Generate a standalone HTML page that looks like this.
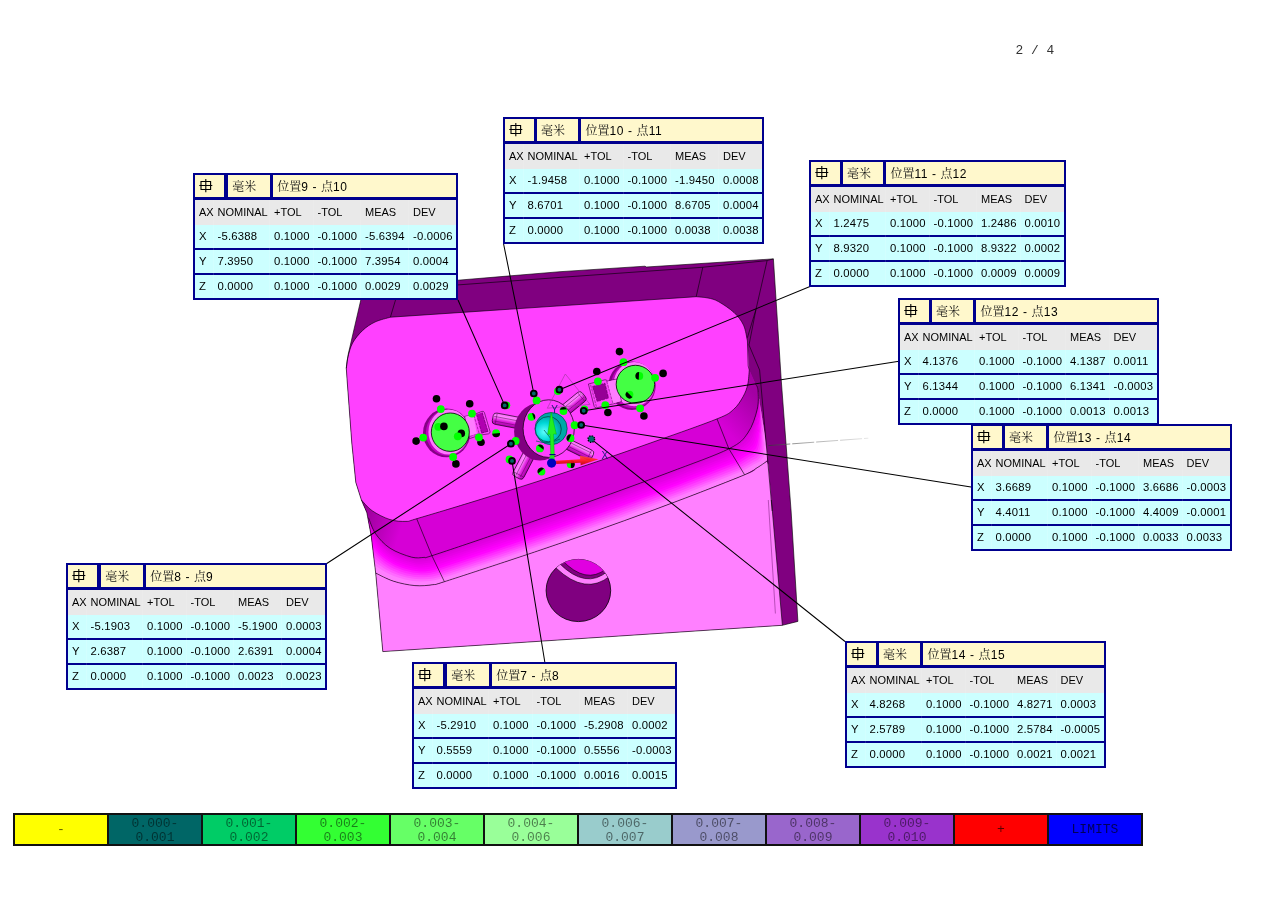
<!DOCTYPE html>
<html lang="zh"><head><meta charset="utf-8"><title>Report 2 / 4</title>
<style>
html,body{margin:0;padding:0;background:#fff}
body{width:1269px;height:897px;position:relative;overflow:hidden;font-family:"Liberation Sans","Noto Sans CJK SC",sans-serif}
#pg{position:absolute;left:1015.6px;top:42.6px;font:12.9px/15px "Liberation Mono",monospace;color:#333;white-space:pre}
#mdl{position:absolute;left:0;top:0}
.tb{position:absolute;height:127px;background:#00008e;box-sizing:border-box}
.tb .c{position:absolute;top:2px;height:22px;background:#fff8cc;line-height:24px;font-size:12px;white-space:nowrap;overflow:hidden}
.tb .c1{left:2px;width:29px}
.tb .c1 svg{position:absolute;left:4px;top:4px}
.tb .c2{}
.tb .c2 span{margin-left:4.4px}
.tb .c3{padding-left:4.4px;box-sizing:border-box}
.cj{font-family:"Liberation Serif","Noto Serif CJK SC",serif;font-size:12px;color:#151515;font-weight:400}
.la{font-family:"Liberation Sans",sans-serif;font-size:12px;color:#000;letter-spacing:.6px}
.tb .r{position:absolute;left:2px;right:2px}
.tb .h{background:#e9e9e9}
.tb .d{background:#ccffff;height:23px}
.tb .t{position:absolute;font-weight:normal;font-size:11.3px;line-height:22px;height:23px;color:#000;white-space:nowrap;letter-spacing:.2px}
.tb .th{letter-spacing:0;font-size:11px;line-height:24px}
.tb .vs{position:absolute;top:27px;height:98px;width:1px;background:rgba(255,255,255,.12)}
#lg{position:absolute;left:13.2px;top:813.4px;width:1129.5px;height:32.4px;background:#111}
#lg .k{position:absolute;top:1.2px;width:92.5px;height:29.9px;margin-left:1.5px;font:13px/14.2px "Liberation Mono",monospace;color:rgba(0,0,0,.5);text-align:center;padding-top:2px;box-sizing:border-box}
#lg .k1{line-height:30px;padding-top:0;color:rgba(0,0,0,.65)}
</style></head><body>
<div id="pg">2 / 4</div>
<svg id="mdl" width="1269" height="897" viewBox="0 0 1269 897">
<defs>
<linearGradient id="gf" gradientUnits="userSpaceOnUse" x1="500" y1="531.2" x2="509.7" y2="558.4">
<stop offset="0" stop-color="#dd00dd"/><stop offset=".35" stop-color="#ff00ff"/><stop offset=".6" stop-color="#ff22ff"/><stop offset="1" stop-color="#ff80ff"/></linearGradient>
<radialGradient id="gcy" cx=".35" cy=".6" r=".7"><stop offset="0" stop-color="#60ffff"/><stop offset=".5" stop-color="#00d8d8"/><stop offset="1" stop-color="#009898"/></radialGradient>
<linearGradient id="gpinL" x1="0" y1="1" x2="0" y2="0"><stop offset="0" stop-color="#ff60ff"/><stop offset=".3" stop-color="#ff90ff"/><stop offset=".6" stop-color="#e020e0"/><stop offset="1" stop-color="#a800a8"/></linearGradient>
<linearGradient id="gpinUR" x1="0" y1="0" x2="0" y2="1"><stop offset="0" stop-color="#ff60ff"/><stop offset=".3" stop-color="#ff90ff"/><stop offset=".6" stop-color="#e020e0"/><stop offset="1" stop-color="#a800a8"/></linearGradient>
<linearGradient id="gpinLR" x1="0" y1="0" x2="0" y2="1"><stop offset="0" stop-color="#ff60ff"/><stop offset=".3" stop-color="#ff90ff"/><stop offset=".6" stop-color="#e020e0"/><stop offset="1" stop-color="#a800a8"/></linearGradient>
<linearGradient id="gpinLL" x1="0" y1="0" x2="0" y2="1"><stop offset="0" stop-color="#a800a8"/><stop offset=".4" stop-color="#e020e0"/><stop offset=".7" stop-color="#ff90ff"/><stop offset="1" stop-color="#ff60ff"/></linearGradient>
<linearGradient id="gwl" gradientUnits="userSpaceOnUse" x1="358" y1="505" x2="404" y2="520"><stop offset="0" stop-color="#700070" stop-opacity=".7"/><stop offset="1" stop-color="#700070" stop-opacity="0"/></linearGradient>
<linearGradient id="gwr" gradientUnits="userSpaceOnUse" x1="726" y1="430" x2="760" y2="400"><stop offset="0" stop-color="#700070" stop-opacity="0"/><stop offset="1" stop-color="#700070" stop-opacity=".5"/></linearGradient>
<linearGradient id="gdl" gradientUnits="userSpaceOnUse" x1="768" y1="0" x2="868" y2="0"><stop offset="0" stop-color="#333"/><stop offset=".4" stop-color="#888"/><stop offset="1" stop-color="#ddd"/></linearGradient>
<linearGradient id="gred" x1="0" y1="0" x2="0" y2="1"><stop offset="0" stop-color="#ff5040"/><stop offset=".5" stop-color="#ff1a1a"/><stop offset="1" stop-color="#b80000"/></linearGradient>
</defs>
<path d="M364 286.5 L458 280.2 L560 271.7 L645 266.2 L646.5 267 L773.4 258.9 L781.3 381 L791.1 511 L797.9 621.4 L782.4 625.3 L382.8 651.6 L375.7 573.1 L371.2 535.7 L366.8 512.5 L361.4 500 L355.8 482.4 L351.8 443 L347.1 380 L346.3 368.3 L348.2 354.4 L360.8 300Z" fill="#800080"/>
<clipPath id="sc"><path d="M364 286.5 L458 280.2 L560 271.7 L645 266.2 L646.5 267 L773.4 258.9 L781.3 381 L791.1 511 L797.9 621.4 L782.4 625.3 L382.8 651.6 L375.7 573.1 L371.2 535.7 L366.8 512.5 L361.4 500 L355.8 482.4 L351.8 443 L347.1 380 L346.3 368.3 L348.2 354.4 L360.8 300Z"/></clipPath>
<g clip-path="url(#sc)">
<path d="M362.5 513.8 L368.5 517.8 L370.2 522.3 L372 526.8 L374 531.2 L376.7 535.2 L379.7 539 L383 542.5 L386.6 545.7 L390.5 548.5 L394.7 550.8 L399.1 552.8 L403.6 554.6 L408.2 556.2 L412.8 557.4 L417.6 557.9 L422.4 557.5 L427.2 556.9 L431.9 555.7 L491.4 535.7 L551 515.2 L610.5 494 L670.1 472 L728.9 448.8 L733 445.8 L737.1 442.8 L741.1 439.7 L744.9 436.3 L748.2 432.5 L750.7 428.1 L752.8 423.5 L754.6 418.7 L756 413.9 L757.3 408.9 L758.1 403.9 L758.3 398.9 L758.2 393.8 L757.8 388.7 L755.6 384.2 L755.7 384.4 L757.8 389.2 L758.3 394.4 L758.6 399.7 L758.5 405 L757.9 410.2 L756.9 415.3 L755.7 420.4 L754.3 425.4 L752.5 430.2 L750.3 434.9 L747.4 439.1 L743.6 442.6 L739.3 445.7 L735 448.7 L730.7 451.8 L671.7 475 L612.1 497.1 L552.5 518.3 L492.9 538.7 L433.3 558.7 L428.7 559.9 L424 560.6 L419.3 561 L414.6 560.6 L410 559.5 L405.5 558.2 L401 556.6 L396.6 554.8 L392.4 552.6 L388.5 550.1 L384.8 547.1 L381.4 543.9 L378.3 540.4 L375.5 536.6 L373.3 532.5 L371.3 528.3 L369.3 524.1 L363.3 520.1Z" fill="#d900d9"/>
<path d="M363 517.8 L369 521.8 L370.9 526.1 L372.8 530.4 L375 534.6 L377.7 538.4 L380.8 542 L384.1 545.4 L387.8 548.4 L391.7 551.1 L395.9 553.3 L400.3 555.2 L404.8 556.8 L409.3 558.3 L413.9 559.4 L418.7 559.8 L423.4 559.4 L428.2 558.8 L432.8 557.6 L492.3 537.6 L552 517.1 L611.5 495.9 L671.1 473.9 L730 450.7 L734.3 447.6 L738.5 444.7 L742.7 441.5 L746.5 438.1 L749.5 434 L751.9 429.4 L753.7 424.7 L755.3 419.7 L756.6 414.8 L757.7 409.7 L758.3 404.6 L758.5 399.4 L758.3 394.2 L757.8 389 L755.7 384.3 L755.8 384.5 L757.8 389.5 L758.4 394.8 L758.7 400.2 L758.7 405.6 L758.3 410.9 L757.4 416.2 L756.4 421.4 L755.2 426.5 L753.6 431.6 L751.7 436.4 L749 440.8 L745.1 444.5 L740.7 447.5 L736.3 450.6 L731.8 453.6 L672.7 476.9 L613.1 499 L553.5 520.2 L493.8 540.6 L434.2 560.5 L429.7 561.7 L425 562.5 L420.3 562.9 L415.7 562.6 L411.1 561.6 L406.6 560.4 L402.2 558.9 L397.8 557.2 L393.6 555.2 L389.6 552.8 L385.9 550 L382.5 546.9 L379.3 543.6 L376.4 540 L374.1 536.1 L371.9 532.1 L369.8 528.1 L363.8 524.1Z" fill="#e000e0"/>
<path d="M363.5 521.7 L369.5 525.7 L371.5 529.8 L373.6 534 L375.9 538 L378.7 541.7 L381.8 545.1 L385.2 548.3 L388.9 551.1 L392.9 553.7 L397.1 555.7 L401.5 557.5 L405.9 559 L410.4 560.4 L415 561.4 L419.7 561.8 L424.4 561.3 L429.1 560.6 L433.7 559.4 L493.3 539.5 L552.9 519 L612.5 497.8 L672.1 475.8 L731.1 452.5 L735.5 449.5 L739.9 446.5 L744.2 443.4 L748.1 439.8 L750.9 435.5 L753 430.8 L754.6 425.8 L756 420.8 L757.1 415.6 L758 410.5 L758.6 405.2 L758.6 399.9 L758.3 394.6 L757.8 389.3 L755.7 384.5 L755.8 384.7 L757.8 389.8 L758.4 395.2 L758.8 400.7 L758.9 406.2 L758.6 411.7 L758 417.1 L757.1 422.4 L756.1 427.7 L754.8 432.9 L753.1 437.9 L750.6 442.5 L746.7 446.3 L742.1 449.3 L737.5 452.4 L732.9 455.5 L673.7 478.8 L614 500.9 L554.4 522.1 L494.7 542.5 L435.1 562.4 L430.6 563.6 L426 564.4 L421.4 564.8 L416.7 564.6 L412.2 563.7 L407.7 562.6 L403.3 561.3 L399 559.7 L394.8 557.8 L390.8 555.5 L387.1 552.9 L383.6 550 L380.3 546.8 L377.4 543.4 L374.9 539.7 L372.6 535.9 L370.4 532 L364.4 528Z" fill="#e600e6"/>
<path d="M364 525.6 L370 529.6 L372.2 533.6 L374.4 537.5 L376.8 541.3 L379.7 544.9 L382.9 548.1 L386.4 551.1 L390.1 553.9 L394.1 556.2 L398.3 558.2 L402.6 559.9 L407.1 561.3 L411.5 562.5 L416.1 563.4 L420.8 563.7 L425.4 563.2 L430 562.5 L434.6 561.3 L494.2 541.4 L553.9 520.9 L613.5 499.7 L673.1 477.7 L732.3 454.4 L736.8 451.3 L741.3 448.3 L745.7 445.2 L749.7 441.5 L752.3 437 L754.1 432.1 L755.6 427 L756.7 421.8 L757.6 416.5 L758.4 411.2 L758.8 405.9 L758.8 400.4 L758.4 395 L757.8 389.6 L755.8 384.6 L755.9 384.8 L757.8 390 L758.5 395.6 L759 401.3 L759.2 406.9 L759 412.5 L758.5 418 L757.8 423.5 L757 428.9 L755.9 434.2 L754.4 439.4 L752.2 444.2 L748.2 448.1 L743.5 451.1 L738.8 454.2 L734.1 457.3 L674.7 480.7 L615 502.8 L555.4 524 L495.7 544.4 L436 564.2 L431.6 565.5 L427 566.2 L422.4 566.8 L417.8 566.6 L413.3 565.8 L408.9 564.8 L404.5 563.6 L400.2 562.1 L396 560.3 L392 558.2 L388.2 555.7 L384.7 553 L381.3 550 L378.3 546.8 L375.7 543.3 L373.2 539.6 L370.9 536 L364.9 532Z" fill="#ed00ed"/>
<path d="M364.6 529.6 L370.6 533.6 L372.9 537.4 L375.2 541.1 L377.7 544.7 L380.7 548.1 L384 551.2 L387.5 554 L391.3 556.6 L395.3 558.8 L399.5 560.7 L403.8 562.2 L408.2 563.5 L412.7 564.6 L417.2 565.4 L421.8 565.6 L426.4 565.1 L431 564.3 L435.5 563.1 L495.1 543.2 L554.8 522.8 L614.4 501.6 L674.1 479.6 L733.4 456.2 L738 453.1 L742.7 450.1 L747.3 447 L751.2 443.2 L753.6 438.5 L755.2 433.4 L756.5 428.2 L757.4 422.8 L758.2 417.4 L758.8 412 L759 406.5 L758.9 400.9 L758.5 395.4 L757.8 389.9 L755.9 384.7 L756 384.9 L757.8 390.3 L758.6 396 L759.1 401.8 L759.4 407.5 L759.4 413.2 L759 418.9 L758.6 424.5 L757.9 430.1 L757 435.5 L755.8 440.9 L753.8 445.9 L749.7 449.9 L744.9 453 L740 456.1 L735.2 459.2 L675.7 482.6 L616 504.7 L556.3 525.9 L496.6 546.3 L436.9 566.1 L432.5 567.3 L428 568.1 L423.5 568.7 L418.9 568.6 L414.5 568 L410 567.1 L405.7 566 L401.3 564.6 L397.2 562.9 L393.1 560.9 L389.3 558.6 L385.7 556 L382.3 553.2 L379.2 550.2 L376.5 546.8 L373.9 543.4 L371.4 539.9 L365.4 535.9Z" fill="#f300f3"/>
<path d="M365.1 533.5 L371.1 537.5 L373.5 541.1 L376 544.7 L378.7 548.1 L381.7 551.3 L385.1 554.2 L388.7 556.9 L392.4 559.3 L396.4 561.4 L400.6 563.1 L405 564.6 L409.3 565.7 L413.8 566.7 L418.3 567.4 L422.8 567.5 L427.4 567 L431.9 566.2 L436.4 565 L496 545.1 L555.8 524.7 L615.4 503.5 L675.1 481.5 L734.5 458.1 L739.3 455 L744 451.9 L748.8 448.8 L752.8 444.9 L755 440 L756.3 434.7 L757.4 429.4 L758.1 423.9 L758.7 418.3 L759.1 412.8 L759.3 407.1 L759 401.5 L758.5 395.8 L757.8 390.1 L755.9 384.8 L756 385 L757.8 390.6 L758.6 396.4 L759.2 402.3 L759.6 408.2 L759.7 414 L759.6 419.8 L759.3 425.5 L758.8 431.2 L758.1 436.9 L757.2 442.4 L755.4 447.6 L751.3 451.7 L746.3 454.8 L741.3 457.9 L736.3 461.1 L676.7 484.5 L617 506.6 L557.3 527.8 L497.5 548.1 L437.8 568 L433.4 569.2 L429 570 L424.5 570.6 L420 570.6 L415.6 570.1 L411.2 569.3 L406.8 568.3 L402.5 567 L398.3 565.5 L394.3 563.6 L390.5 561.5 L386.8 559.1 L383.4 556.5 L380.2 553.6 L377.3 550.4 L374.6 547.1 L371.9 543.9 L365.9 539.9Z" fill="#fa00fa"/>
<path d="M365.6 537.5 L371.6 541.5 L374.2 544.9 L376.8 548.3 L379.6 551.5 L382.8 554.5 L386.2 557.3 L389.8 559.8 L393.6 562 L397.6 563.9 L401.8 565.6 L406.1 566.9 L410.5 568 L414.9 568.8 L419.4 569.4 L423.9 569.4 L428.4 568.9 L432.9 568.1 L437.3 566.8 L497 547 L556.7 526.6 L616.4 505.4 L676.1 483.4 L735.6 459.9 L740.5 456.8 L745.4 453.7 L750.4 450.6 L754.4 446.6 L756.4 441.5 L757.5 436.1 L758.3 430.5 L758.8 424.9 L759.2 419.2 L759.5 413.5 L759.5 407.8 L759.2 402 L758.6 396.2 L757.8 390.4 L756 385 L756.1 385.2 L757.9 390.9 L758.7 396.8 L759.4 402.8 L759.9 408.8 L760.1 414.8 L760.1 420.7 L760 426.6 L759.7 432.4 L759.3 438.2 L758.5 443.9 L757 449.3 L752.8 453.5 L747.7 456.6 L742.5 459.7 L737.4 462.9 L677.8 486.4 L618 508.5 L558.2 529.7 L498.5 550 L438.7 569.8 L434.4 571 L430 571.9 L425.5 572.5 L421.1 572.6 L416.7 572.2 L412.3 571.5 L408 570.6 L403.7 569.5 L399.5 568.1 L395.5 566.3 L391.6 564.3 L387.9 562.1 L384.4 559.7 L381.1 556.9 L378.1 554 L375.2 550.9 L372.4 547.8 L366.4 543.8Z" fill="#ff04ff"/>
<path d="M366.1 541.5 L372.1 545.5 L374.8 548.6 L377.6 551.8 L380.5 554.9 L383.8 557.7 L387.3 560.3 L390.9 562.6 L394.8 564.7 L398.8 566.5 L403 568 L407.3 569.2 L411.6 570.2 L416 570.9 L420.4 571.4 L424.9 571.4 L429.4 570.8 L433.8 569.9 L438.1 568.7 L497.9 548.9 L557.6 528.5 L617.4 507.4 L677.2 485.2 L736.8 461.8 L741.8 458.6 L746.8 455.5 L751.9 452.4 L756 448.3 L757.7 443 L758.6 437.4 L759.2 431.7 L759.6 425.9 L759.8 420.1 L759.9 414.3 L759.7 408.4 L759.3 402.5 L758.7 396.6 L757.8 390.7 L756 385.1 L756.2 385.3 L757.9 391.2 L758.8 397.2 L759.5 403.3 L760.1 409.4 L760.5 415.5 L760.6 421.6 L760.7 427.6 L760.6 433.6 L760.4 439.5 L759.9 445.4 L758.5 451 L754.4 455.3 L749 458.4 L743.8 461.6 L738.5 464.8 L678.8 488.3 L619 510.4 L559.2 531.6 L499.4 551.9 L439.6 571.7 L435.3 572.9 L431 573.8 L426.6 574.4 L422.2 574.5 L417.8 574.3 L413.5 573.8 L409.2 573 L404.9 571.9 L400.7 570.6 L396.7 569.1 L392.8 567.2 L389 565.2 L385.4 562.9 L382 560.3 L378.9 557.6 L375.9 554.7 L372.9 551.8 L366.9 547.8Z" fill="#ff18ff"/>
<path d="M366.6 545.4 L372.6 549.4 L375.5 552.4 L378.4 555.4 L381.5 558.3 L384.8 561 L388.4 563.3 L392.1 565.5 L396 567.4 L400 569.1 L404.2 570.5 L408.5 571.6 L412.8 572.4 L417.1 573 L421.5 573.4 L426 573.3 L430.4 572.7 L434.7 571.8 L439 570.6 L498.8 550.8 L558.6 530.5 L618.4 509.3 L678.2 487.1 L737.9 463.7 L743 460.5 L748.2 457.3 L753.4 454.2 L757.6 450 L759.1 444.5 L759.7 438.7 L760.1 432.9 L760.3 427 L760.3 421 L760.2 415.1 L760 409.1 L759.4 403 L758.7 397 L757.9 391 L756.1 385.2 L756.2 385.4 L757.9 391.4 L758.9 397.6 L759.7 403.9 L760.3 410.1 L760.8 416.3 L761.2 422.5 L761.4 428.6 L761.5 434.8 L761.5 440.9 L761.3 446.9 L760.1 452.7 L755.9 457.2 L750.4 460.2 L745.1 463.4 L739.7 466.6 L679.8 490.2 L620 512.3 L560.1 533.5 L500.3 553.8 L440.5 573.5 L436.3 574.8 L432 575.7 L427.6 576.3 L423.3 576.5 L418.9 576.4 L414.6 576 L410.3 575.3 L406.1 574.4 L401.9 573.2 L397.8 571.8 L393.9 570.1 L390.1 568.2 L386.4 566.1 L382.9 563.7 L379.7 561.1 L376.6 558.4 L373.4 555.7 L367.4 551.7Z" fill="#ff2dff"/>
<path d="M367.1 549.4 L373.1 553.4 L376.2 556.2 L379.2 559 L382.4 561.7 L385.8 564.2 L389.4 566.4 L393.2 568.4 L397.1 570.1 L401.2 571.7 L405.4 572.9 L409.6 573.9 L413.9 574.7 L418.3 575.1 L422.6 575.3 L427 575.2 L431.4 574.6 L435.7 573.6 L439.9 572.4 L499.8 552.7 L559.5 532.4 L619.4 511.2 L679.2 489 L739 465.5 L744.3 462.3 L749.6 459.1 L755 456.1 L759.2 451.7 L760.5 446 L760.8 440.1 L761 434.1 L761 428 L760.8 421.9 L760.6 415.8 L760.2 409.7 L759.6 403.6 L758.8 397.4 L757.9 391.3 L756.2 385.4 L756.3 385.6 L757.9 391.7 L758.9 398 L759.8 404.4 L760.6 410.7 L761.2 417.1 L761.7 423.4 L762.1 429.7 L762.5 435.9 L762.6 442.2 L762.6 448.4 L761.7 454.5 L757.4 459 L751.8 462 L746.3 465.3 L740.8 468.5 L680.8 492.1 L620.9 514.2 L561.1 535.4 L501.2 555.7 L441.4 575.4 L437.2 576.6 L433 577.6 L428.7 578.3 L424.3 578.5 L420 578.5 L415.8 578.2 L411.5 577.7 L407.3 576.8 L403.1 575.8 L399 574.5 L395 573 L391.2 571.3 L387.4 569.3 L383.9 567.1 L380.5 564.7 L377.2 562.2 L374 559.7 L368 555.7Z" fill="#ff41ff"/>
<path d="M367.6 553.3 L373.6 557.3 L376.8 559.9 L380 562.6 L383.3 565.1 L386.8 567.4 L390.5 569.4 L394.4 571.2 L398.3 572.9 L402.4 574.2 L406.5 575.4 L410.8 576.3 L415.1 576.9 L419.4 577.2 L423.7 577.3 L428 577.1 L432.4 576.5 L436.6 575.5 L440.8 574.3 L500.7 554.6 L560.5 534.3 L620.4 513.1 L680.2 490.9 L740.1 467.4 L745.6 464.2 L751 460.9 L756.5 457.9 L760.8 453.4 L761.8 447.5 L761.9 441.4 L761.9 435.2 L761.7 429 L761.4 422.8 L761 416.6 L760.4 410.3 L759.7 404.1 L758.9 397.8 L757.9 391.6 L756.2 385.5 L756.3 385.7 L757.9 392 L759 398.4 L759.9 404.9 L760.8 411.4 L761.6 417.8 L762.2 424.3 L762.8 430.7 L763.4 437.1 L763.7 443.5 L764 449.9 L763.3 456.2 L759 460.8 L753.2 463.8 L747.6 467.1 L741.9 470.3 L681.8 494 L621.9 516.1 L562 537.3 L502.2 557.6 L442.3 577.2 L438.1 578.5 L434 579.5 L429.7 580.2 L425.4 580.5 L421.2 580.6 L416.9 580.4 L412.7 580 L408.4 579.3 L404.3 578.4 L400.2 577.2 L396.2 575.8 L392.3 574.3 L388.5 572.5 L384.8 570.5 L381.3 568.3 L377.9 565.9 L374.5 563.6 L368.5 559.6Z" fill="#ff55ff"/>
<path d="M368.2 557.2 L374.2 561.2 L377.5 563.7 L380.8 566.1 L384.2 568.5 L387.8 570.6 L391.6 572.5 L395.5 574.1 L399.5 575.6 L403.6 576.8 L407.7 577.8 L412 578.6 L416.2 579.1 L420.5 579.3 L424.8 579.3 L429.1 579 L433.4 578.4 L437.6 577.4 L441.7 576.1 L501.6 556.4 L561.4 536.2 L621.3 515 L681.2 492.8 L741.2 469.2 L746.8 466 L752.4 462.7 L758.1 459.7 L762.3 455.1 L763.2 449 L763.1 442.7 L762.8 436.4 L762.4 430.1 L761.9 423.7 L761.3 417.4 L760.7 411 L759.9 404.6 L758.9 398.2 L757.9 391.8 L756.3 385.6 L756.4 385.8 L757.9 392.3 L759.1 398.8 L760.1 405.4 L761 412 L761.9 418.6 L762.8 425.2 L763.6 431.7 L764.3 438.3 L764.9 444.8 L765.4 451.4 L764.9 457.9 L760.5 462.6 L754.6 465.6 L748.8 468.9 L743 472.2 L682.8 495.9 L622.9 518 L563 539.2 L503.1 559.5 L443.1 579.1 L439.1 580.3 L434.9 581.4 L430.7 582.1 L426.5 582.5 L422.3 582.7 L418 582.7 L413.8 582.4 L409.6 581.8 L405.5 580.9 L401.4 579.9 L397.3 578.7 L393.3 577.4 L389.5 575.8 L385.7 573.9 L382.1 571.8 L378.5 569.7 L375 567.6 L369 563.6Z" fill="#ff6aff"/>
<path d="M368.7 561.2 L374.7 565.2 L378.1 567.4 L381.6 569.7 L385.2 571.9 L388.9 573.8 L392.7 575.5 L396.6 577 L400.7 578.3 L404.8 579.4 L408.9 580.3 L413.1 581 L417.4 581.3 L421.6 581.4 L425.9 581.3 L430.1 580.9 L434.3 580.3 L438.5 579.2 L442.6 578 L502.5 558.3 L562.4 538.1 L622.3 516.9 L682.2 494.7 L742.4 471.1 L748.1 467.8 L753.7 464.5 L759.6 461.5 L763.9 456.8 L764.6 450.5 L764.2 444 L763.7 437.6 L763.1 431.1 L762.4 424.6 L761.7 418.1 L760.9 411.6 L760 405.1 L759 398.6 L757.9 392.1 L756.4 385.7 L756.5 385.9 L757.9 392.6 L759.1 399.3 L760.2 405.9 L761.3 412.6 L762.3 419.3 L763.3 426 L764.3 432.7 L765.2 439.5 L766 446.2 L766.7 452.9 L766.5 459.6 L762.1 464.4 L756 467.4 L750.1 470.8 L744.2 474.1 L683.8 497.7 L623.9 519.9 L563.9 541.1 L504 561.3 L444 581 L440 582.2 L435.9 583.3 L431.8 584 L427.6 584.5 L423.4 584.8 L419.2 584.9 L415 584.7 L410.8 584.2 L406.7 583.5 L402.5 582.6 L398.5 581.6 L394.4 580.4 L390.5 579 L386.6 577.3 L382.9 575.4 L379.2 573.5 L375.5 571.5 L369.5 567.5Z" fill="#ff7eff"/>
<path d="M369.2 565.1 L375.2 569.1 L378.8 571.2 L382.4 573.3 L386.1 575.3 L389.9 577 L393.8 578.6 L397.8 579.9 L401.8 581 L405.9 582 L410.1 582.7 L414.3 583.3 L418.5 583.6 L422.7 583.5 L426.9 583.3 L431.2 582.9 L435.3 582.2 L439.4 581.1 L443.5 579.8 L503.5 560.2 L563.3 540 L623.3 518.8 L683.2 496.6 L743.5 472.9 L749.3 469.7 L755.1 466.3 L761.1 463.3 L765.5 458.6 L765.9 452 L765.3 445.4 L764.6 438.8 L763.8 432.1 L763 425.5 L762.1 418.9 L761.1 412.3 L760.1 405.6 L759.1 399 L757.9 392.4 L756.4 385.9 L756.5 386 L757.9 392.7 L759.1 399.4 L760.3 406.2 L761.4 412.9 L762.4 419.7 L763.5 426.4 L764.6 433.2 L765.5 439.9 L766.4 446.7 L767.3 453.5 L767.1 460.3 L762.7 465.1 L756.5 468.1 L750.6 471.5 L744.6 474.8 L684.2 498.5 L624.3 520.7 L564.3 541.9 L504.4 562.1 L444.4 581.7 L440.4 582.9 L436.3 584 L432.2 584.8 L428 585.3 L423.8 585.7 L419.6 585.8 L415.4 585.6 L411.3 585.2 L407.1 584.5 L403 583.7 L398.9 582.7 L394.9 581.6 L390.9 580.3 L387 578.6 L383.2 576.9 L379.5 575 L375.7 573.1 L369.7 569.1Z" fill="#ff80ff"/>
</g>
<path d="M375.7 573.1C378.7 574.5 387 579.1 393.5 581.2C400 583.3 408.3 585 414.9 585.6C421.4 586.2 427.9 585.4 432.8 584.7C437.7 584.1 432.5 585.5 444.4 581.7C456.3 577.9 484.4 568.7 504.4 562.1C524.4 555.5 544.3 548.8 564.3 541.9C584.3 535 604.3 527.9 624.3 520.7C644.3 513.5 664.2 506.1 684.2 498.5C704.2 490.9 732.4 479.9 744.6 474.8C756.8 469.7 753.5 469.9 757.2 467.7C760.9 465.5 765.1 462.4 766.7 461.4L768.3 464.6 L771.4 500 L782.4 625.3 L382.8 651.6Z" fill="#ff80ff"/>
<path d="M368.5 517.8C369.7 520.5 372.1 528.8 375.7 533.9C379.3 539 384.1 544.3 390 548.2C395.9 552.1 405.8 555.6 411.4 557.1C417 558.6 420.5 557.6 423.9 557.4C427.3 557.2 420.6 559.3 431.9 555.7C443.1 552.1 471.5 542.5 491.4 535.7C511.2 529 531.1 522.2 551 515.2C570.9 508.3 590.6 501.2 610.5 494C630.4 486.8 650.4 479.5 670.1 472C689.8 464.5 716 455.3 728.9 448.8C741.8 442.3 743.1 439.6 747.8 433C752.5 426.4 755.5 416.5 757.2 409.4C758.9 402.3 758.3 394.7 758 390.5C757.7 386.3 756 385.2 755.6 384.2L749.3 370L749.3 370C749 372.4 748.8 379.7 747.8 384.2C746.8 388.7 745.4 392.6 743 396.8C740.6 401 737.9 405.7 733.6 409.4C729.3 413.1 729.8 413.7 717 418.9C704.2 424.1 677 433.6 657 440.7C637 447.8 616.9 454.9 596.9 461.7C576.9 468.5 556.9 475.2 536.9 481.7C516.9 488.2 496.8 494.4 476.8 500.6C456.8 506.8 428.5 515.2 416.7 518.7C404.9 522.2 410.4 521.2 406 521.4C401.6 521.5 395.6 521.4 390 519.6C384.4 517.8 376.9 514 372.1 510.7C367.3 507.4 363.2 501.8 361.4 500L366.8 512.5Z" fill="#d600d6"/>
<path d="M368.5 517.8C369.7 520.5 372.1 528.8 375.7 533.9C379.3 539 384.1 544.3 390 548.2C395.9 552.1 405.8 555.6 411.4 557.1C417 558.6 420.5 557.6 423.9 557.4C427.3 557.2 420.6 559.3 431.9 555.7C443.1 552.1 471.5 542.5 491.4 535.7C511.2 529 531.1 522.2 551 515.2C570.9 508.3 590.6 501.2 610.5 494C630.4 486.8 650.4 479.5 670.1 472C689.8 464.5 716 455.3 728.9 448.8C741.8 442.3 743.1 439.6 747.8 433C752.5 426.4 755.5 416.5 757.2 409.4C758.9 402.3 758.3 394.7 758 390.5C757.7 386.3 756 385.2 755.6 384.2L749.3 370L749.3 370C749 372.4 748.8 379.7 747.8 384.2C746.8 388.7 745.4 392.6 743 396.8C740.6 401 737.9 405.7 733.6 409.4C729.3 413.1 729.8 413.7 717 418.9C704.2 424.1 677 433.6 657 440.7C637 447.8 616.9 454.9 596.9 461.7C576.9 468.5 556.9 475.2 536.9 481.7C516.9 488.2 496.8 494.4 476.8 500.6C456.8 506.8 428.5 515.2 416.7 518.7C404.9 522.2 410.4 521.2 406 521.4C401.6 521.5 395.6 521.4 390 519.6C384.4 517.8 376.9 514 372.1 510.7C367.3 507.4 363.2 501.8 361.4 500L366.8 512.5Z" fill="url(#gwl)"/>
<path d="M368.5 517.8C369.7 520.5 372.1 528.8 375.7 533.9C379.3 539 384.1 544.3 390 548.2C395.9 552.1 405.8 555.6 411.4 557.1C417 558.6 420.5 557.6 423.9 557.4C427.3 557.2 420.6 559.3 431.9 555.7C443.1 552.1 471.5 542.5 491.4 535.7C511.2 529 531.1 522.2 551 515.2C570.9 508.3 590.6 501.2 610.5 494C630.4 486.8 650.4 479.5 670.1 472C689.8 464.5 716 455.3 728.9 448.8C741.8 442.3 743.1 439.6 747.8 433C752.5 426.4 755.5 416.5 757.2 409.4C758.9 402.3 758.3 394.7 758 390.5C757.7 386.3 756 385.2 755.6 384.2L749.3 370L749.3 370C749 372.4 748.8 379.7 747.8 384.2C746.8 388.7 745.4 392.6 743 396.8C740.6 401 737.9 405.7 733.6 409.4C729.3 413.1 729.8 413.7 717 418.9C704.2 424.1 677 433.6 657 440.7C637 447.8 616.9 454.9 596.9 461.7C576.9 468.5 556.9 475.2 536.9 481.7C516.9 488.2 496.8 494.4 476.8 500.6C456.8 506.8 428.5 515.2 416.7 518.7C404.9 522.2 410.4 521.2 406 521.4C401.6 521.5 395.6 521.4 390 519.6C384.4 517.8 376.9 514 372.1 510.7C367.3 507.4 363.2 501.8 361.4 500L366.8 512.5Z" fill="url(#gwr)"/>
<path d="M346.3 368.3C346.5 366.6 346.6 362.4 347.6 358.2C348.7 354 350.1 347.6 352.6 343C355.1 338.4 359 333.9 362.7 330.4C366.4 326.9 370.4 324.2 375 322C379.6 319.8 387.8 318 390.4 317.2L696.2 296.7C698.2 296.9 704.3 297.2 708 298C711.7 298.8 714 299.1 718.3 301.5C722.6 303.9 729.8 308.6 734 312.5C738.2 316.4 741.3 320.4 743.5 325.1C745.7 329.8 746.8 338.3 747.4 340.9L749.3 370C749 372.4 748.8 379.7 747.8 384.2C746.8 388.7 745.4 392.6 743 396.8C740.6 401 737.9 405.7 733.6 409.4C729.3 413.1 729.8 413.7 717 418.9C704.2 424.1 677 433.6 657 440.7C637 447.8 616.9 454.9 596.9 461.7C576.9 468.5 556.9 475.2 536.9 481.7C516.9 488.2 496.8 494.4 476.8 500.6C456.8 506.8 428.5 515.2 416.7 518.7C404.9 522.2 410.4 521.2 406 521.4C401.6 521.5 395.6 521.4 390 519.6C384.4 517.8 376.9 514 372.1 510.7C367.3 507.4 363.2 501.8 361.4 500L355.8 482.4 L351.8 443 L347.1 380 L346.3 368.3Z" fill="#ff40ff"/>
<path d="M346.3 368.3C346.5 366.6 346.6 362.4 347.6 358.2C348.7 354 350.1 347.6 352.6 343C355.1 338.4 359 333.9 362.7 330.4C366.4 326.9 370.4 324.2 375 322C379.6 319.8 387.8 318 390.4 317.2L696.2 296.7C698.2 296.9 704.3 297.2 708 298C711.7 298.8 714 299.1 718.3 301.5C722.6 303.9 729.8 308.6 734 312.5C738.2 316.4 741.3 320.4 743.5 325.1C745.7 329.8 746.8 338.3 747.4 340.9 M747.4 340.9L748.2 366 L749.3 370L749.3 370C749 372.4 748.8 379.7 747.8 384.2C746.8 388.7 745.4 392.6 743 396.8C740.6 401 737.9 405.7 733.6 409.4C729.3 413.1 729.8 413.7 717 418.9C704.2 424.1 677 433.6 657 440.7C637 447.8 616.9 454.9 596.9 461.7C576.9 468.5 556.9 475.2 536.9 481.7C516.9 488.2 496.8 494.4 476.8 500.6C456.8 506.8 428.5 515.2 416.7 518.7C404.9 522.2 410.4 521.2 406 521.4C401.6 521.5 395.6 521.4 390 519.6C384.4 517.8 376.9 514 372.1 510.7C367.3 507.4 363.2 501.8 361.4 500 M368.5 517.8C369.7 520.5 372.1 528.8 375.7 533.9C379.3 539 384.1 544.3 390 548.2C395.9 552.1 405.8 555.6 411.4 557.1C417 558.6 420.5 557.6 423.9 557.4C427.3 557.2 420.6 559.3 431.9 555.7C443.1 552.1 471.5 542.5 491.4 535.7C511.2 529 531.1 522.2 551 515.2C570.9 508.3 590.6 501.2 610.5 494C630.4 486.8 650.4 479.5 670.1 472C689.8 464.5 716 455.3 728.9 448.8C741.8 442.3 743.1 439.6 747.8 433C752.5 426.4 755.5 416.5 757.2 409.4C758.9 402.3 758.3 394.7 758 390.5C757.7 386.3 756 385.2 755.6 384.2 M375.7 573.1C378.7 574.5 387 579.1 393.5 581.2C400 583.3 408.3 585 414.9 585.6C421.4 586.2 427.9 585.4 432.8 584.7C437.7 584.1 432.5 585.5 444.4 581.7C456.3 577.9 484.4 568.7 504.4 562.1C524.4 555.5 544.3 548.8 564.3 541.9C584.3 535 604.3 527.9 624.3 520.7C644.3 513.5 664.2 506.1 684.2 498.5C704.2 490.9 732.4 479.9 744.6 474.8C756.8 469.7 753.5 469.9 757.2 467.7C760.9 465.5 765.1 462.4 766.7 461.4 M416.7 518.7L431.9 555.7L444.4 581.7 M717 418.9L728.9 448.8L744.6 474.8 M395.5 300L390.4 317.2 M702.8 267.3L696.2 296.7 M364 291.2L458 284.9L560 277.4L702.2 267.3L767.1 260.6L756 309.3L747.4 337.7 M767.1 260.5L773.4 258.9 M756 309.3L749 345L759.6 370L772.2 511 M364 286.5 L458 280.2 L560 271.7 L645 266.2 L646.5 267 L773.4 258.9 L781.3 381 L791.1 511 L797.9 621.4 L782.4 625.3 L382.8 651.6 L375.7 573.1 L371.2 535.7 L366.8 512.5 L361.4 500 L355.8 482.4 L351.8 443 L347.1 380 L346.3 368.3 L348.2 354.4 L360.8 300Z M771.4 500L782.4 625.3" fill="none" stroke="#000" stroke-width=".62"/>
<path d="M768.3 500L775.4 613.5" fill="none" stroke="#8a2a8a" stroke-width=".6"/>
<g>
<clipPath id="hc"><ellipse cx="578.4" cy="590.5" rx="32.3" ry="31.1"/></clipPath>
<ellipse cx="578.4" cy="590.5" rx="32.3" ry="31.1" fill="#800080" stroke="#000" stroke-width=".8"/>
<g clip-path="url(#hc)">
<path d="M556 568Q585.7 596 610 576L610 550L556 550Z" fill="#ff80ff"/>
<path d="M559 563Q585.7 590 608 571L608 550L559 550Z" fill="#800080"/>
<path d="M562 560Q585.7 585 606 569L606 550L562 550Z" fill="#e000e0"/>
<path d="M556 568Q585.7 596 610 576M559 563Q585.7 590 608 571M562 560Q585.7 585 606 569" fill="none" stroke="#000" stroke-width=".6"/>
</g></g>
<g transform="translate(518 422.9) rotate(-169.2)"><path d="M0 -5.7H22.5Q25.7 -5.7 25.7 -2.5V2.5Q25.7 5.7 22.5 5.7H0Z" fill="url(#gpinL)" stroke="#000" stroke-width=".6"/><path d="M0 -2.6H23.7M0 2H24.7M22.2 -5.2V5.2" fill="none" stroke="#600060" stroke-width=".5"/></g>
<g transform="translate(563.5 411.5) rotate(-39.4)"><path d="M0 -5.75H23.1Q26.3 -5.75 26.3 -2.5V2.5Q26.3 5.75 23.1 5.75H0Z" fill="url(#gpinUR)" stroke="#000" stroke-width=".6"/><path d="M0 -2.6H24.3M0 2H25.3M22.8 -5.2V5.2" fill="none" stroke="#600060" stroke-width=".5"/></g>
<g transform="translate(568 444.2) rotate(26.3)"><path d="M0 -5.25H24.1Q27.3 -5.25 27.3 -2V2Q27.3 5.25 24.1 5.25H0Z" fill="url(#gpinLR)" stroke="#000" stroke-width=".6"/><path d="M0 -2.4H25.3M0 1.8H26.3M23.8 -4.8V4.8" fill="none" stroke="#600060" stroke-width=".5"/></g>
<g transform="translate(529.5 453.5) rotate(117.4)"><path d="M0 -6.0H23.9Q27.1 -6.0 27.1 -2.8V2.8Q27.1 6.0 23.9 6.0H0Z" fill="url(#gpinLL)" stroke="#000" stroke-width=".6"/><path d="M0 -2.7H25.1M0 2.1H26.1M23.6 -5.5V5.5" fill="none" stroke="#600060" stroke-width=".5"/></g>
<ellipse cx="446.6" cy="432.9" rx="23.6" ry="24.4" fill="#860086"/>
<ellipse cx="447.6" cy="432.8" rx="21.7" ry="23" fill="#c000c0"/>
<ellipse cx="448.6" cy="432" rx="20.2" ry="22.6" fill="#ff78ff"/>
<path d="M464.6 416.4L473.6 414.8L481.8 411.4Q483.8 410.8 484.4 412.6L490 431.4Q490.4 433.2 488.6 433.8L479.6 435.2L469.6 438.6Z" fill="#ff48ff" stroke="#200020" stroke-width=".55"/>
<path d="M465.4 416.6L473.4 415L476.8 433.2L469.8 436.2Z" fill="#ff7cff"/>
<path d="M476.4 414.4L482.4 412.4L488.2 431.6L481.6 433.6Z" fill="#b000b0"/>
<path d="M473.8 415L479.6 435M476.4 414.4L481.8 433.6M482.2 412.4L488 431.8M469.8 436.4L488.4 431.2" fill="none" stroke="#400040" stroke-width=".45" stroke-dasharray="3 1"/>
<ellipse cx="450.3" cy="432.2" rx="19" ry="19.2" fill="#44ff44" stroke="#000" stroke-width=".8"/>
<ellipse cx="632" cy="385.7" rx="23.7" ry="24.2" fill="#860086"/>
<ellipse cx="633.1" cy="385.4" rx="22.1" ry="22.9" fill="#c000c0"/>
<ellipse cx="634.2" cy="384.2" rx="20.6" ry="22.1" fill="#ff78ff"/>
<path d="M588.4 384L604.8 379.8Q606.8 379.4 607.4 381.2L617 379L621.4 401.4L613.4 403.8L596.6 407.8Q594.8 408.2 594.2 406.4Z" fill="#ff48ff" stroke="#200020" stroke-width=".55"/>
<path d="M607.6 381.6L616.8 379.4L620.8 401.2L612.4 403.6Z" fill="#ff7cff"/>
<path d="M592.4 386.4L605 383.2L608.6 398L597.2 401.6Z" fill="#960096"/>
<path d="M590.6 384.8L596.4 406.6M592.4 386.4L605 383.2L608.6 398L597.2 401.6ZM606.6 381L613 403.6" fill="none" stroke="#400040" stroke-width=".45" stroke-dasharray="3 1"/>
<ellipse cx="635.4" cy="384.3" rx="19.2" ry="19" fill="#44ff44" stroke="#000" stroke-width=".8"/>
<ellipse cx="539.9" cy="431.6" rx="25.8" ry="28.8" fill="#800080"/>
<ellipse cx="548.7" cy="428.6" rx="25.6" ry="28.8" fill="#ff40ff" stroke="#000" stroke-width=".7"/>
<path d="M547.3 408.2L565.3 374L590 404.4Z" fill="none" stroke="#9a3a9a" stroke-width=".6"/>
<ellipse cx="551.1" cy="428.6" rx="16.1" ry="16.1" fill="#00a8a8" stroke="#004848" stroke-width=".7"/>
<ellipse cx="548.3" cy="429.2" rx="13" ry="12.6" fill="url(#gcy)" stroke="#003838" stroke-width=".7"/>
<path d="M536 441Q548 445 560 439M544 430L552 440" fill="none" stroke="#005050" stroke-width=".7"/>
<circle cx="436.5" cy="398.7" r="3.8" fill="#000"/>
<circle cx="469.7" cy="403.7" r="3.8" fill="#000"/>
<circle cx="416.1" cy="441.1" r="3.8" fill="#000"/>
<circle cx="481" cy="442.3" r="3.8" fill="#000"/>
<circle cx="455.9" cy="463.9" r="3.8" fill="#000"/>
<circle cx="619.5" cy="351.6" r="3.8" fill="#000"/>
<circle cx="596.8" cy="371.5" r="3.8" fill="#000"/>
<circle cx="663.1" cy="373.4" r="3.8" fill="#000"/>
<circle cx="607.9" cy="412.5" r="3.8" fill="#000"/>
<circle cx="643.9" cy="416" r="3.8" fill="#000"/>
<circle cx="438.3" cy="426.8" r="3.9" fill="#00ff00"/>
<circle cx="443.9" cy="426.4" r="3.8" fill="#000"/>
<circle cx="461.3" cy="433.4" r="3.8" fill="#000"/>
<circle cx="457.8" cy="436.3" r="3.9" fill="#00ff00"/>
<circle cx="639.3" cy="376" r="3.9" fill="#00ff00"/><path d="M639.11 372.10A3.9 3.9 0 0 0 638.71 379.85Z" fill="#000"/>
<circle cx="629.5" cy="394.6" r="3.9" fill="#00ff00"/><path d="M626.85 391.73A3.9 3.9 0 1 0 632.37 397.25Z" fill="#000"/>
<circle cx="531.4" cy="416.8" r="3.9" fill="#00ff00"/><path d="M534.27 419.44A3.9 3.9 0 0 0 531.90 412.93Z" fill="#000"/>
<circle cx="539.9" cy="448.4" r="3.9" fill="#00ff00"/><path d="M543.58 449.69A3.9 3.9 0 0 0 537.76 445.14Z" fill="#000"/>
<circle cx="563.5" cy="411" r="3.9" fill="#00ff00"/><path d="M566.92 409.13A3.9 3.9 0 0 0 559.80 409.76Z" fill="#000"/>
<circle cx="570.5" cy="438.2" r="3.9" fill="#00ff00"/><path d="M571.41 434.41A3.9 3.9 0 0 0 568.18 441.33Z" fill="#000"/>
<circle cx="570.7" cy="464.2" r="3.9" fill="#00ff00"/><path d="M570.86 468.10A3.9 3.9 0 0 0 570.86 460.30Z" fill="#000"/>
<circle cx="496.1" cy="433.2" r="3.9" fill="#00ff00"/><path d="M492.25 433.84A3.9 3.9 0 0 0 500.00 433.03Z" fill="#000"/>
<circle cx="541.5" cy="471.6" r="3.9" fill="#00ff00"/><path d="M543.93 468.55A3.9 3.9 0 0 0 538.07 473.46Z" fill="#000"/>
<circle cx="440.8" cy="409.1" r="3.9" fill="#00ff00"/>
<circle cx="472" cy="413.6" r="3.9" fill="#00ff00"/>
<circle cx="423.2" cy="437.6" r="3.9" fill="#00ff00"/>
<circle cx="478.9" cy="437.3" r="3.9" fill="#00ff00"/>
<circle cx="453.1" cy="457" r="3.9" fill="#00ff00"/>
<circle cx="623.5" cy="362.2" r="3.9" fill="#00ff00"/>
<circle cx="597.9" cy="381.3" r="3.9" fill="#00ff00"/>
<circle cx="655.1" cy="377.8" r="3.9" fill="#00ff00"/>
<circle cx="605.3" cy="405.1" r="3.9" fill="#00ff00"/>
<circle cx="640.1" cy="408.3" r="3.9" fill="#00ff00"/>
<circle cx="536.6" cy="400.4" r="3.9" fill="#00ff00"/>
<circle cx="574.6" cy="425.2" r="3.9" fill="#00ff00"/>
<circle cx="515.6" cy="441" r="3.9" fill="#00ff00"/>
<circle cx="506.4" cy="405.3" r="3.9" fill="#00ff00"/>
<circle cx="557.9" cy="391.1" r="3.9" fill="#00ff00"/>
<circle cx="584.4" cy="409.5" r="3.9" fill="#00ff00"/>
<circle cx="509.5" cy="459.4" r="3.9" fill="#00ff00"/>
<path d="M458 300L504.7 405.4M503.5 243.5L533.8 393.5M810 286.5L559.4 389.7M899 361.3L583.7 410.8M971 487L581.2 425M845 641.5L591.3 439.1M326 564L510.9 443.7M544.8 662L512 460.9" fill="none" stroke="#000" stroke-width="1.05"/>
<circle cx="504.7" cy="405.4" r="2.9" fill="#006868" stroke="#000" stroke-width="1.9"/>
<circle cx="533.8" cy="393.5" r="2.9" fill="#006868" stroke="#000" stroke-width="1.9"/>
<circle cx="559.4" cy="389.7" r="2.9" fill="#006868" stroke="#000" stroke-width="1.9"/>
<circle cx="583.7" cy="410.8" r="2.9" fill="#006868" stroke="#000" stroke-width="1.9"/>
<circle cx="581.2" cy="425" r="2.9" fill="#006868" stroke="#000" stroke-width="1.9"/>
<circle cx="591.3" cy="439.1" r="3.3" fill="#006868" stroke="#000" stroke-width="1.4" stroke-dasharray="1.3 1.3"/>
<circle cx="510.9" cy="443.7" r="2.9" fill="#006868" stroke="#000" stroke-width="1.9"/>
<circle cx="512" cy="460.9" r="2.9" fill="#006868" stroke="#000" stroke-width="1.9"/>
<path d="M768.3 445.6L868.3 438.2" fill="none" stroke="url(#gdl)" stroke-width=".7" stroke-dasharray="22 2"/>
<path d="M556 460.7L580.2 459.3L580 455.8L598.4 459.3L580.7 465.2L580.5 462.7L556.2 464.1Z" fill="url(#gred)" opacity=".92"/>
<path d="M551.2 412L556.4 434.2L553.6 434L554.4 456.5L550.8 456.7L550 434.2L547.6 434.4Z" fill="#22ee22" stroke="#0a0" stroke-width=".4"/>
<path d="M549.4 454.6H555.6" stroke="#000080" stroke-width="1.2"/>
<circle cx="552" cy="458.2" r="2.6" fill="#20e020"/>
<circle cx="551.6" cy="463.1" r="4.6" fill="#0000c0"/>
<text x="551.2" y="413" font-family="Liberation Sans,sans-serif" font-size="10" fill="#1a1a78">Y</text>
<text x="601.5" y="458.6" font-family="Liberation Sans,sans-serif" font-size="10" fill="#1a1a78">X</text>
</svg>
<div class="tb" style="left:503px;top:117px;width:261px">
<div class="c c1" style="width:28.8px"><svg width="14" height="14" viewBox="0 0 14 14"><path d="M2 2.5h9.6v8h-9.6zM6.8 0v13.2M0.3 6.5h13" fill="none" stroke="#000" stroke-width="1.1"/></svg></div>
<div class="c c2" style="left:33.7px;width:41.3px"><span class="cj">毫米</span></div>
<div class="c c3" style="left:78.2px;width:180.8px"><span class="cj">位置</span><span class="la">10 - </span><span class="cj">点</span><span class="la">11</span></div>
<div class="r h" style="top:27px;height:25px"></div>
<div class="r d" style="top:52px"></div>
<div class="r d" style="top:77px"></div>
<div class="r d" style="top:102px"></div>
<i class="vs" style="left:19.5px"></i>
<i class="vs" style="left:76.0px"></i>
<i class="vs" style="left:119.5px"></i>
<i class="vs" style="left:167.0px"></i>
<i class="vs" style="left:215.0px"></i>
<span class="t th" style="left:6px;top:27px">AX</span>
<span class="t th" style="left:24.5px;top:27px">NOMINAL</span>
<span class="t th" style="left:81px;top:27px">+TOL</span>
<span class="t th" style="left:124.5px;top:27px">-TOL</span>
<span class="t th" style="left:172px;top:27px">MEAS</span>
<span class="t th" style="left:220px;top:27px">DEV</span>
<span class="t" style="left:6px;top:52px">X</span>
<span class="t" style="left:24.5px;top:52px">-1.9458</span>
<span class="t" style="left:81px;top:52px">0.1000</span>
<span class="t" style="left:124.5px;top:52px">-0.1000</span>
<span class="t" style="left:172px;top:52px">-1.9450</span>
<span class="t" style="left:220px;top:52px">0.0008</span>
<span class="t" style="left:6px;top:77px">Y</span>
<span class="t" style="left:24.5px;top:77px">8.6701</span>
<span class="t" style="left:81px;top:77px">0.1000</span>
<span class="t" style="left:124.5px;top:77px">-0.1000</span>
<span class="t" style="left:172px;top:77px">8.6705</span>
<span class="t" style="left:220px;top:77px">0.0004</span>
<span class="t" style="left:6px;top:102px">Z</span>
<span class="t" style="left:24.5px;top:102px">0.0000</span>
<span class="t" style="left:81px;top:102px">0.1000</span>
<span class="t" style="left:124.5px;top:102px">-0.1000</span>
<span class="t" style="left:172px;top:102px">0.0038</span>
<span class="t" style="left:220px;top:102px">0.0038</span>
</div>
<div class="tb" style="left:193px;top:173px;width:265px">
<div class="c c1" style="width:29.2px"><svg width="14" height="14" viewBox="0 0 14 14"><path d="M2 2.5h9.6v8h-9.6zM6.8 0v13.2M0.3 6.5h13" fill="none" stroke="#000" stroke-width="1.1"/></svg></div>
<div class="c c2" style="left:34.8px;width:42.2px"><span class="cj">毫米</span></div>
<div class="c c3" style="left:79.9px;width:183.1px"><span class="cj">位置</span><span class="la">9 - </span><span class="cj">点</span><span class="la">10</span></div>
<div class="r h" style="top:27px;height:25px"></div>
<div class="r d" style="top:52px"></div>
<div class="r d" style="top:77px"></div>
<div class="r d" style="top:102px"></div>
<i class="vs" style="left:19.5px"></i>
<i class="vs" style="left:76.0px"></i>
<i class="vs" style="left:119.5px"></i>
<i class="vs" style="left:167.0px"></i>
<i class="vs" style="left:215.0px"></i>
<span class="t th" style="left:6px;top:27px">AX</span>
<span class="t th" style="left:24.5px;top:27px">NOMINAL</span>
<span class="t th" style="left:81px;top:27px">+TOL</span>
<span class="t th" style="left:124.5px;top:27px">-TOL</span>
<span class="t th" style="left:172px;top:27px">MEAS</span>
<span class="t th" style="left:220px;top:27px">DEV</span>
<span class="t" style="left:6px;top:52px">X</span>
<span class="t" style="left:24.5px;top:52px">-5.6388</span>
<span class="t" style="left:81px;top:52px">0.1000</span>
<span class="t" style="left:124.5px;top:52px">-0.1000</span>
<span class="t" style="left:172px;top:52px">-5.6394</span>
<span class="t" style="left:220px;top:52px">-0.0006</span>
<span class="t" style="left:6px;top:77px">Y</span>
<span class="t" style="left:24.5px;top:77px">7.3950</span>
<span class="t" style="left:81px;top:77px">0.1000</span>
<span class="t" style="left:124.5px;top:77px">-0.1000</span>
<span class="t" style="left:172px;top:77px">7.3954</span>
<span class="t" style="left:220px;top:77px">0.0004</span>
<span class="t" style="left:6px;top:102px">Z</span>
<span class="t" style="left:24.5px;top:102px">0.0000</span>
<span class="t" style="left:81px;top:102px">0.1000</span>
<span class="t" style="left:124.5px;top:102px">-0.1000</span>
<span class="t" style="left:172px;top:102px">0.0029</span>
<span class="t" style="left:220px;top:102px">0.0029</span>
</div>
<div class="tb" style="left:809px;top:160px;width:257px">
<div class="c c1" style="width:28.7px"><svg width="14" height="14" viewBox="0 0 14 14"><path d="M2 2.5h9.6v8h-9.6zM6.8 0v13.2M0.3 6.5h13" fill="none" stroke="#000" stroke-width="1.1"/></svg></div>
<div class="c c2" style="left:33.6px;width:40.1px"><span class="cj">毫米</span></div>
<div class="c c3" style="left:77.0px;width:178.0px"><span class="cj">位置</span><span class="la">11 - </span><span class="cj">点</span><span class="la">12</span></div>
<div class="r h" style="top:27px;height:25px"></div>
<div class="r d" style="top:52px"></div>
<div class="r d" style="top:77px"></div>
<div class="r d" style="top:102px"></div>
<i class="vs" style="left:19.5px"></i>
<i class="vs" style="left:76.0px"></i>
<i class="vs" style="left:119.5px"></i>
<i class="vs" style="left:167.0px"></i>
<i class="vs" style="left:210.5px"></i>
<span class="t th" style="left:6px;top:27px">AX</span>
<span class="t th" style="left:24.5px;top:27px">NOMINAL</span>
<span class="t th" style="left:81px;top:27px">+TOL</span>
<span class="t th" style="left:124.5px;top:27px">-TOL</span>
<span class="t th" style="left:172px;top:27px">MEAS</span>
<span class="t th" style="left:215.5px;top:27px">DEV</span>
<span class="t" style="left:6px;top:52px">X</span>
<span class="t" style="left:24.5px;top:52px">1.2475</span>
<span class="t" style="left:81px;top:52px">0.1000</span>
<span class="t" style="left:124.5px;top:52px">-0.1000</span>
<span class="t" style="left:172px;top:52px">1.2486</span>
<span class="t" style="left:215.5px;top:52px">0.0010</span>
<span class="t" style="left:6px;top:77px">Y</span>
<span class="t" style="left:24.5px;top:77px">8.9320</span>
<span class="t" style="left:81px;top:77px">0.1000</span>
<span class="t" style="left:124.5px;top:77px">-0.1000</span>
<span class="t" style="left:172px;top:77px">8.9322</span>
<span class="t" style="left:215.5px;top:77px">0.0002</span>
<span class="t" style="left:6px;top:102px">Z</span>
<span class="t" style="left:24.5px;top:102px">0.0000</span>
<span class="t" style="left:81px;top:102px">0.1000</span>
<span class="t" style="left:124.5px;top:102px">-0.1000</span>
<span class="t" style="left:172px;top:102px">0.0009</span>
<span class="t" style="left:215.5px;top:102px">0.0009</span>
</div>
<div class="tb" style="left:898px;top:298px;width:261px">
<div class="c c1" style="width:28.8px"><svg width="14" height="14" viewBox="0 0 14 14"><path d="M2 2.5h9.6v8h-9.6zM6.8 0v13.2M0.3 6.5h13" fill="none" stroke="#000" stroke-width="1.1"/></svg></div>
<div class="c c2" style="left:33.7px;width:41.3px"><span class="cj">毫米</span></div>
<div class="c c3" style="left:78.2px;width:180.8px"><span class="cj">位置</span><span class="la">12 - </span><span class="cj">点</span><span class="la">13</span></div>
<div class="r h" style="top:27px;height:25px"></div>
<div class="r d" style="top:52px"></div>
<div class="r d" style="top:77px"></div>
<div class="r d" style="top:102px"></div>
<i class="vs" style="left:19.5px"></i>
<i class="vs" style="left:76.0px"></i>
<i class="vs" style="left:119.5px"></i>
<i class="vs" style="left:167.0px"></i>
<i class="vs" style="left:210.5px"></i>
<span class="t th" style="left:6px;top:27px">AX</span>
<span class="t th" style="left:24.5px;top:27px">NOMINAL</span>
<span class="t th" style="left:81px;top:27px">+TOL</span>
<span class="t th" style="left:124.5px;top:27px">-TOL</span>
<span class="t th" style="left:172px;top:27px">MEAS</span>
<span class="t th" style="left:215.5px;top:27px">DEV</span>
<span class="t" style="left:6px;top:52px">X</span>
<span class="t" style="left:24.5px;top:52px">4.1376</span>
<span class="t" style="left:81px;top:52px">0.1000</span>
<span class="t" style="left:124.5px;top:52px">-0.1000</span>
<span class="t" style="left:172px;top:52px">4.1387</span>
<span class="t" style="left:215.5px;top:52px">0.0011</span>
<span class="t" style="left:6px;top:77px">Y</span>
<span class="t" style="left:24.5px;top:77px">6.1344</span>
<span class="t" style="left:81px;top:77px">0.1000</span>
<span class="t" style="left:124.5px;top:77px">-0.1000</span>
<span class="t" style="left:172px;top:77px">6.1341</span>
<span class="t" style="left:215.5px;top:77px">-0.0003</span>
<span class="t" style="left:6px;top:102px">Z</span>
<span class="t" style="left:24.5px;top:102px">0.0000</span>
<span class="t" style="left:81px;top:102px">0.1000</span>
<span class="t" style="left:124.5px;top:102px">-0.1000</span>
<span class="t" style="left:172px;top:102px">0.0013</span>
<span class="t" style="left:215.5px;top:102px">0.0013</span>
</div>
<div class="tb" style="left:971px;top:424px;width:261px">
<div class="c c1" style="width:28.8px"><svg width="14" height="14" viewBox="0 0 14 14"><path d="M2 2.5h9.6v8h-9.6zM6.8 0v13.2M0.3 6.5h13" fill="none" stroke="#000" stroke-width="1.1"/></svg></div>
<div class="c c2" style="left:33.7px;width:41.3px"><span class="cj">毫米</span></div>
<div class="c c3" style="left:78.2px;width:180.8px"><span class="cj">位置</span><span class="la">13 - </span><span class="cj">点</span><span class="la">14</span></div>
<div class="r h" style="top:27px;height:25px"></div>
<div class="r d" style="top:52px"></div>
<div class="r d" style="top:77px"></div>
<div class="r d" style="top:102px"></div>
<i class="vs" style="left:19.5px"></i>
<i class="vs" style="left:76.0px"></i>
<i class="vs" style="left:119.5px"></i>
<i class="vs" style="left:167.0px"></i>
<i class="vs" style="left:210.5px"></i>
<span class="t th" style="left:6px;top:27px">AX</span>
<span class="t th" style="left:24.5px;top:27px">NOMINAL</span>
<span class="t th" style="left:81px;top:27px">+TOL</span>
<span class="t th" style="left:124.5px;top:27px">-TOL</span>
<span class="t th" style="left:172px;top:27px">MEAS</span>
<span class="t th" style="left:215.5px;top:27px">DEV</span>
<span class="t" style="left:6px;top:52px">X</span>
<span class="t" style="left:24.5px;top:52px">3.6689</span>
<span class="t" style="left:81px;top:52px">0.1000</span>
<span class="t" style="left:124.5px;top:52px">-0.1000</span>
<span class="t" style="left:172px;top:52px">3.6686</span>
<span class="t" style="left:215.5px;top:52px">-0.0003</span>
<span class="t" style="left:6px;top:77px">Y</span>
<span class="t" style="left:24.5px;top:77px">4.4011</span>
<span class="t" style="left:81px;top:77px">0.1000</span>
<span class="t" style="left:124.5px;top:77px">-0.1000</span>
<span class="t" style="left:172px;top:77px">4.4009</span>
<span class="t" style="left:215.5px;top:77px">-0.0001</span>
<span class="t" style="left:6px;top:102px">Z</span>
<span class="t" style="left:24.5px;top:102px">0.0000</span>
<span class="t" style="left:81px;top:102px">0.1000</span>
<span class="t" style="left:124.5px;top:102px">-0.1000</span>
<span class="t" style="left:172px;top:102px">0.0033</span>
<span class="t" style="left:215.5px;top:102px">0.0033</span>
</div>
<div class="tb" style="left:66px;top:563px;width:261px">
<div class="c c1" style="width:29.2px"><svg width="14" height="14" viewBox="0 0 14 14"><path d="M2 2.5h9.6v8h-9.6zM6.8 0v13.2M0.3 6.5h13" fill="none" stroke="#000" stroke-width="1.1"/></svg></div>
<div class="c c2" style="left:34.8px;width:42.2px"><span class="cj">毫米</span></div>
<div class="c c3" style="left:79.9px;width:179.1px"><span class="cj">位置</span><span class="la">8 - </span><span class="cj">点</span><span class="la">9</span></div>
<div class="r h" style="top:27px;height:25px"></div>
<div class="r d" style="top:52px"></div>
<div class="r d" style="top:77px"></div>
<div class="r d" style="top:102px"></div>
<i class="vs" style="left:19.5px"></i>
<i class="vs" style="left:76.0px"></i>
<i class="vs" style="left:119.5px"></i>
<i class="vs" style="left:167.0px"></i>
<i class="vs" style="left:215.0px"></i>
<span class="t th" style="left:6px;top:27px">AX</span>
<span class="t th" style="left:24.5px;top:27px">NOMINAL</span>
<span class="t th" style="left:81px;top:27px">+TOL</span>
<span class="t th" style="left:124.5px;top:27px">-TOL</span>
<span class="t th" style="left:172px;top:27px">MEAS</span>
<span class="t th" style="left:220px;top:27px">DEV</span>
<span class="t" style="left:6px;top:52px">X</span>
<span class="t" style="left:24.5px;top:52px">-5.1903</span>
<span class="t" style="left:81px;top:52px">0.1000</span>
<span class="t" style="left:124.5px;top:52px">-0.1000</span>
<span class="t" style="left:172px;top:52px">-5.1900</span>
<span class="t" style="left:220px;top:52px">0.0003</span>
<span class="t" style="left:6px;top:77px">Y</span>
<span class="t" style="left:24.5px;top:77px">2.6387</span>
<span class="t" style="left:81px;top:77px">0.1000</span>
<span class="t" style="left:124.5px;top:77px">-0.1000</span>
<span class="t" style="left:172px;top:77px">2.6391</span>
<span class="t" style="left:220px;top:77px">0.0004</span>
<span class="t" style="left:6px;top:102px">Z</span>
<span class="t" style="left:24.5px;top:102px">0.0000</span>
<span class="t" style="left:81px;top:102px">0.1000</span>
<span class="t" style="left:124.5px;top:102px">-0.1000</span>
<span class="t" style="left:172px;top:102px">0.0023</span>
<span class="t" style="left:220px;top:102px">0.0023</span>
</div>
<div class="tb" style="left:412px;top:662px;width:265px">
<div class="c c1" style="width:29.2px"><svg width="14" height="14" viewBox="0 0 14 14"><path d="M2 2.5h9.6v8h-9.6zM6.8 0v13.2M0.3 6.5h13" fill="none" stroke="#000" stroke-width="1.1"/></svg></div>
<div class="c c2" style="left:34.8px;width:42.2px"><span class="cj">毫米</span></div>
<div class="c c3" style="left:79.9px;width:183.1px"><span class="cj">位置</span><span class="la">7 - </span><span class="cj">点</span><span class="la">8</span></div>
<div class="r h" style="top:27px;height:25px"></div>
<div class="r d" style="top:52px"></div>
<div class="r d" style="top:77px"></div>
<div class="r d" style="top:102px"></div>
<i class="vs" style="left:19.5px"></i>
<i class="vs" style="left:76.0px"></i>
<i class="vs" style="left:119.5px"></i>
<i class="vs" style="left:167.0px"></i>
<i class="vs" style="left:215.0px"></i>
<span class="t th" style="left:6px;top:27px">AX</span>
<span class="t th" style="left:24.5px;top:27px">NOMINAL</span>
<span class="t th" style="left:81px;top:27px">+TOL</span>
<span class="t th" style="left:124.5px;top:27px">-TOL</span>
<span class="t th" style="left:172px;top:27px">MEAS</span>
<span class="t th" style="left:220px;top:27px">DEV</span>
<span class="t" style="left:6px;top:52px">X</span>
<span class="t" style="left:24.5px;top:52px">-5.2910</span>
<span class="t" style="left:81px;top:52px">0.1000</span>
<span class="t" style="left:124.5px;top:52px">-0.1000</span>
<span class="t" style="left:172px;top:52px">-5.2908</span>
<span class="t" style="left:220px;top:52px">0.0002</span>
<span class="t" style="left:6px;top:77px">Y</span>
<span class="t" style="left:24.5px;top:77px">0.5559</span>
<span class="t" style="left:81px;top:77px">0.1000</span>
<span class="t" style="left:124.5px;top:77px">-0.1000</span>
<span class="t" style="left:172px;top:77px">0.5556</span>
<span class="t" style="left:220px;top:77px">-0.0003</span>
<span class="t" style="left:6px;top:102px">Z</span>
<span class="t" style="left:24.5px;top:102px">0.0000</span>
<span class="t" style="left:81px;top:102px">0.1000</span>
<span class="t" style="left:124.5px;top:102px">-0.1000</span>
<span class="t" style="left:172px;top:102px">0.0016</span>
<span class="t" style="left:220px;top:102px">0.0015</span>
</div>
<div class="tb" style="left:845px;top:641px;width:261px">
<div class="c c1" style="width:28.8px"><svg width="14" height="14" viewBox="0 0 14 14"><path d="M2 2.5h9.6v8h-9.6zM6.8 0v13.2M0.3 6.5h13" fill="none" stroke="#000" stroke-width="1.1"/></svg></div>
<div class="c c2" style="left:33.7px;width:41.3px"><span class="cj">毫米</span></div>
<div class="c c3" style="left:78.2px;width:180.8px"><span class="cj">位置</span><span class="la">14 - </span><span class="cj">点</span><span class="la">15</span></div>
<div class="r h" style="top:27px;height:25px"></div>
<div class="r d" style="top:52px"></div>
<div class="r d" style="top:77px"></div>
<div class="r d" style="top:102px"></div>
<i class="vs" style="left:19.5px"></i>
<i class="vs" style="left:76.0px"></i>
<i class="vs" style="left:119.5px"></i>
<i class="vs" style="left:167.0px"></i>
<i class="vs" style="left:210.5px"></i>
<span class="t th" style="left:6px;top:27px">AX</span>
<span class="t th" style="left:24.5px;top:27px">NOMINAL</span>
<span class="t th" style="left:81px;top:27px">+TOL</span>
<span class="t th" style="left:124.5px;top:27px">-TOL</span>
<span class="t th" style="left:172px;top:27px">MEAS</span>
<span class="t th" style="left:215.5px;top:27px">DEV</span>
<span class="t" style="left:6px;top:52px">X</span>
<span class="t" style="left:24.5px;top:52px">4.8268</span>
<span class="t" style="left:81px;top:52px">0.1000</span>
<span class="t" style="left:124.5px;top:52px">-0.1000</span>
<span class="t" style="left:172px;top:52px">4.8271</span>
<span class="t" style="left:215.5px;top:52px">0.0003</span>
<span class="t" style="left:6px;top:77px">Y</span>
<span class="t" style="left:24.5px;top:77px">2.5789</span>
<span class="t" style="left:81px;top:77px">0.1000</span>
<span class="t" style="left:124.5px;top:77px">-0.1000</span>
<span class="t" style="left:172px;top:77px">2.5784</span>
<span class="t" style="left:215.5px;top:77px">-0.0005</span>
<span class="t" style="left:6px;top:102px">Z</span>
<span class="t" style="left:24.5px;top:102px">0.0000</span>
<span class="t" style="left:81px;top:102px">0.1000</span>
<span class="t" style="left:124.5px;top:102px">-0.1000</span>
<span class="t" style="left:172px;top:102px">0.0021</span>
<span class="t" style="left:215.5px;top:102px">0.0021</span>
</div>
<div id="lg">
<div class="k k1" style="left:0px;background:#ffff00">-</div>
<div class="k" style="left:94px;background:#006666">0.000-<br>0.001</div>
<div class="k" style="left:188px;background:#00cc66">0.001-<br>0.002</div>
<div class="k" style="left:282px;background:#33ff33">0.002-<br>0.003</div>
<div class="k" style="left:376px;background:#66ff66">0.003-<br>0.004</div>
<div class="k" style="left:470px;background:#99ff99">0.004-<br>0.006</div>
<div class="k" style="left:564px;background:#99cccc">0.006-<br>0.007</div>
<div class="k" style="left:658px;background:#9999cc">0.007-<br>0.008</div>
<div class="k" style="left:752px;background:#9966cc">0.008-<br>0.009</div>
<div class="k" style="left:846px;background:#9933cc">0.009-<br>0.010</div>
<div class="k k1" style="left:940px;background:#ff0000">+</div>
<div class="k k1" style="left:1034px;background:#0000ff">LIMITS</div>
</div>
</body></html>
